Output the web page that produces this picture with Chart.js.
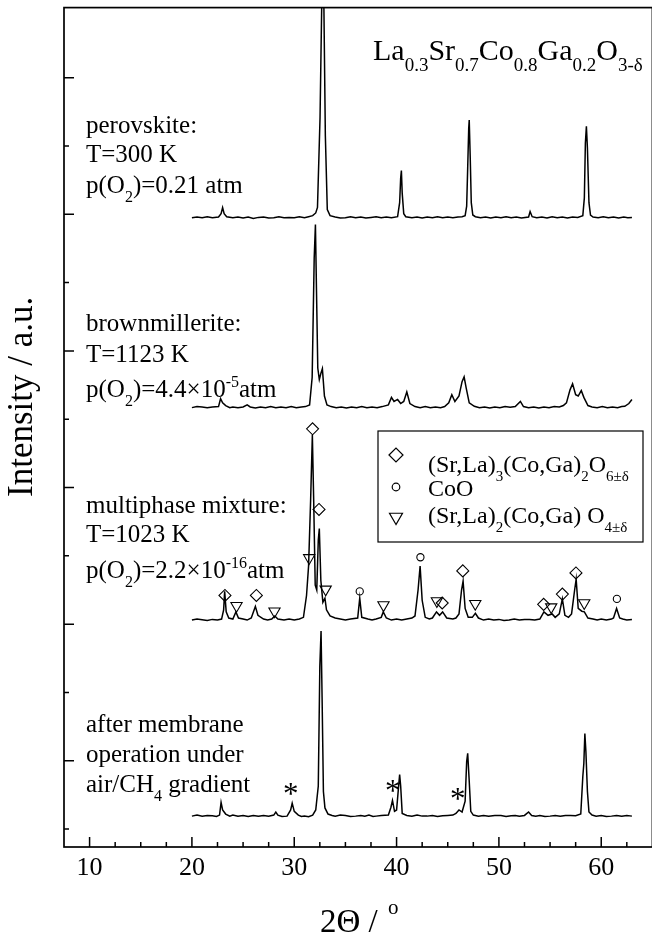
<!DOCTYPE html>
<html>
<head>
<meta charset="utf-8">
<script src="https://cdn.jsdelivr.net/npm/chart.js@4.4.1/dist/chart.umd.min.js"></script>
<style>
  html, body { margin: 0; padding: 0; background: #fff; overflow: hidden; }
  #wrap { width: 660px; height: 939px; }
</style>
</head>
<body>
<div id="wrap"><canvas id="xrd"></canvas></div>
<script>
// --- data (2theta in degrees, intensity in a.u.; 100 a.u. per y tick) ---
const xMajorTicks = [10, 20, 30, 40, 50, 60];
const xMinorTicks = [12.5, 15, 17.5, 22.5, 25, 27.5, 32.5, 35, 37.5, 42.5, 45, 47.5, 52.5, 55, 57.5, 62.5];
const yMajorTicks = [100, 300, 500, 700, 900, 1100];
const yMinorTicks = [0, 200, 400, 600, 800, 1000];

// vertical offsets used to stack the patterns
const offsets = [895, 617, 306, 19];

const perovskite = [[20,0],[20.5,1],[21,0],[21.5,1.5],[22,0],[22.6,1],[22.85,6],[23.0,15],[23.15,6],[23.4,1.5],[24,0],[24.5,1],[25,-0.5],[25.5,1],[26,-1],[26.5,0.5],[27,1],[27.5,-0.5],[28,0],[28.5,1.5],[29,0],[29.5,0.5],[30,0],[30.5,1.5],[31,0],[31.4,1.5],[31.8,3],[32.1,7],[32.27,15],[32.52,146],[32.68,306],[32.79,408],[32.9,306],[33.04,120],[33.23,12],[33.5,3],[34,1],[34.5,-0.5],[35,0],[35.5,1.5],[36,0],[36.5,1],[37,-0.5],[37.5,0.5],[38,1.5],[38.5,0],[39,1],[39.5,0],[40.1,1.5],[40.3,22],[40.4,58],[40.47,69],[40.55,36],[40.7,6],[40.9,1.5],[41.5,0],[42,1],[42.5,-0.5],[43,1],[43.5,0],[44,1.5],[44.5,0],[45,1],[45.5,0],[46,1],[46.4,1.5],[46.7,3],[46.85,17],[46.95,73],[47.05,131],[47.1,143],[47.2,87],[47.3,22],[47.45,4],[47.7,1.5],[48.2,0],[48.7,1],[49.2,-0.5],[49.7,1],[50.2,0],[50.7,1.5],[51.2,0],[51.7,1],[52.2,-0.5],[52.9,1],[53.05,9],[53.25,1.5],[53.7,0],[54.2,1],[54.7,-0.5],[55.2,1.5],[55.7,0],[56.2,1],[56.7,-0.5],[57.2,1],[57.7,0.5],[58.2,3],[58.35,29],[58.45,109],[58.55,134],[58.65,102],[58.8,22],[58.95,4],[59.2,1],[59.7,0],[60.2,1.5],[60.7,0],[61.2,1],[61.7,-0.5],[62.2,1],[62.6,0],[63,0.5]];

const brownmillerite = [[20,0],[20.5,1.5],[21,1],[21.5,0],[22,1],[22.6,1.5],[22.8,13],[23.0,7],[23.3,3],[23.7,0],[24,1],[24.5,0],[25,1],[25.4,4],[25.7,1],[26.2,-0.5],[26.7,1],[27.2,0],[27.7,1.5],[28.2,0],[28.7,1],[29.2,0],[29.7,1.5],[30.2,0],[30.7,1],[31.1,1.5],[31.5,4],[31.75,44],[31.95,219],[32.07,268],[32.17,175],[32.3,58],[32.45,41],[32.6,50],[32.75,57],[32.95,17],[33.2,4],[33.6,1.5],[34.1,0],[34.6,1],[35.1,-0.5],[35.6,1],[36.1,0],[36.6,1.5],[37.1,0],[37.6,1],[38.1,0],[38.6,1.5],[39.2,4],[39.5,15],[39.75,9],[40.1,12],[40.4,6],[40.7,9],[41.0,23],[41.3,6],[41.8,1.5],[42.3,0],[42.8,1.5],[43.3,0],[43.8,1],[44.3,0],[44.7,1.5],[45.1,7],[45.4,19],[45.7,9],[46.1,17],[46.4,38],[46.6,45],[46.8,29],[47.1,7],[47.6,2],[48.1,0],[48.6,1],[49.1,-0.5],[49.6,1],[50.1,0],[50.6,1.5],[51.1,0.5],[51.6,1.5],[52.1,9],[52.4,1.5],[52.9,0],[53.4,1],[53.9,-0.5],[54.4,1],[54.9,0],[55.4,1.5],[55.9,1],[56.3,3],[56.6,7],[56.95,26],[57.2,35],[57.5,19],[57.75,17],[58.05,25],[58.3,15],[58.7,3],[59.1,1],[59.6,0],[60.1,1.5],[60.6,0],[61.1,1],[61.6,0],[62.0,1.5],[62.3,2],[62.7,6],[63,12]];

const multiphase = [[20,0],[20.5,1.5],[21,0.5],[21.5,-0.5],[22,1],[22.5,0],[22.9,1.5],[23.1,15],[23.2,42],[23.35,12],[23.6,3],[24.0,1.5],[24.3,12],[24.55,3],[25,1.5],[25.4,0],[25.8,3],[26.2,20],[26.45,7],[27,1.5],[27.4,0],[27.8,1.5],[28.1,6],[28.4,1.5],[29,0],[29.5,1.5],[30,0],[30.5,1.5],[30.9,4],[31.2,36],[31.4,79],[31.6,175],[31.77,271],[31.9,175],[32.05,51],[32.2,44],[32.35,117],[32.45,134],[32.6,58],[32.8,26],[33.0,32],[33.15,15],[33.5,6],[34,3],[34.5,1.5],[35,0],[35.5,1.5],[36.2,3],[36.4,32],[36.6,4],[37.2,1.5],[37.6,0],[38,1.5],[38.5,4],[38.7,12],[39,3],[39.5,0],[40,1.5],[40.5,0],[41,1.5],[41.5,3],[41.8,6],[42.1,44],[42.3,79],[42.5,29],[42.8,4],[43.2,1.5],[43.5,3],[43.9,12],[44.2,7],[44.5,12],[44.9,3],[45.5,1.5],[45.8,3],[46.1,9],[46.35,44],[46.5,57],[46.7,17],[47.0,4],[47.4,4],[47.7,10],[48.0,3],[48.5,0],[49,1.5],[49.5,0],[50,1],[50.5,-0.5],[51,0],[51.5,1.5],[52,0],[52.5,1],[53,1],[53.5,0],[54,1.5],[54.4,12],[54.8,7],[55.2,9],[55.5,4],[55.9,9],[56.2,31],[56.45,7],[56.8,4],[57.1,9],[57.4,44],[57.55,60],[57.75,17],[58.1,13],[58.35,12],[58.7,3],[59.2,1.5],[59.6,0],[60,1.5],[60.5,0],[61,1.5],[61.2,3],[61.5,17],[61.8,3],[62.1,1.5],[62.5,0],[63,1]];

const membrane = [[20,0],[20.5,1.5],[21,0],[21.5,1],[22,0.5],[22.4,-0.5],[22.7,1.5],[22.85,20],[23.0,9],[23.3,3],[23.7,0],[24,1.5],[24.5,0],[25,1],[25.5,-0.5],[26,1],[26.5,0],[27,1],[27.5,0],[28,1.5],[28.2,6],[28.4,1.5],[28.8,-0.5],[29.3,0],[29.65,9],[29.8,19],[30.0,7],[30.4,1.5],[30.7,-0.5],[31,0],[31.4,-1],[31.8,1.5],[32.1,9],[32.35,44],[32.5,219],[32.62,271],[32.72,175],[32.85,36],[33.0,12],[33.3,3],[33.7,1],[34,0],[34.5,1.5],[35,1],[35.5,-0.5],[36,0],[36.5,1],[36.9,0],[37.3,1.5],[37.7,-0.5],[38,0],[38.5,1],[39.2,1.5],[39.45,13],[39.6,23],[39.8,7],[40.0,9],[40.2,44],[40.3,61],[40.4,44],[40.55,4],[41,1],[41.5,0],[42,1.5],[42.5,0],[43,0],[43.5,1],[44,-0.5],[44.5,0.5],[45,1],[45.5,1.5],[45.8,4],[46.1,9],[46.4,6],[46.7,22],[46.85,80],[46.95,92],[47.1,51],[47.25,7],[47.5,1.5],[48,0],[48.5,1],[49,0],[49.6,1],[50.2,1],[50.7,-0.5],[51.2,0.5],[51.6,1],[52,0],[52.5,1],[52.9,6],[53.2,1],[53.6,0],[54,1],[54.5,-0.5],[55,0],[55.5,1],[56,0],[56.5,1],[57,1],[57.5,0.5],[58.0,3],[58.2,58],[58.3,77],[58.4,121],[58.5,95],[58.65,36],[58.8,6],[59.1,1.5],[59.5,0],[60,1],[60.5,-0.5],[61,0],[61.5,1],[62,0],[62.5,1],[63,0]];

// phase markers over the multiphase pattern (absolute a.u.)
const diamondMarks = [[23.23,342],[26.3,342],[31.79,586],[32.42,468],[44.46,331],[46.47,378],[54.37,329],[56.2,344],[57.53,375]];
const circleMarks = [[36.4,348],[42.33,398],[61.53,337]];
const triangleMarks = [[24.36,327],[28.07,319],[31.46,397],[33.07,351],[38.72,328],[43.94,334],[47.69,330],[55.11,325],[58.34,331]];

// asterisks over the pattern after membrane operation
const starX = [29.67, 39.62, 45.98];
const starY = [58, 63, 52];

const FONT = "'Liberation Serif', 'Times New Roman', serif";

// text blocks on the left (pixel layout)
const notes = [
    { y: 133, parts: [['perovskite:']] },
    { y: 162, parts: [['T=300 K']] },
    { y: 193, parts: [['p(O'], ['2', 'sub'], [')=0.21 atm']] },
    { y: 331, parts: [['brownmillerite:']] },
    { y: 362, parts: [['T=1123 K']] },
    { y: 397, parts: [['p(O'], ['2', 'sub'], [')=4.4\u00d710'], ['-5', 'sup'], ['atm']] },
    { y: 513, parts: [['multiphase mixture:']] },
    { y: 542, parts: [['T=1023 K']] },
    { y: 578, parts: [['p(O'], ['2', 'sub'], [')=2.2\u00d710'], ['-16', 'sup'], ['atm']] },
    { y: 732, parts: [['after membrane']] },
    { y: 762, parts: [['operation under']] },
    { y: 792, parts: [['air/CH'], ['4', 'sub'], [' gradient']] }
];

// draw text with sub/superscripts, returns end x
function drawRich(ctx, x, y, parts, size) {
    let cx = x;
    parts.forEach(([t, k]) => {
        const s = k ? Math.round(size * 0.63) : size;
        ctx.font = s + "px " + FONT;
        let dy = 0;
        if (k === 'sub') dy = size * 0.37;
        if (k === 'sup') dy = -size * 0.4;
        ctx.fillText(t, cx, y + dy);
        cx += ctx.measureText(t).width;
    });
    return cx;
}

const overlay = {
    id: 'overlay',
    afterDatasetsDraw(chart) {
        const ctx = chart.ctx;
        const a = chart.chartArea;
        const xs = chart.scales.x, ys = chart.scales.y;
        ctx.save();
        ctx.strokeStyle = '#000';
        ctx.fillStyle = '#000';

        // frame
        ctx.lineWidth = 1.7;
        ctx.strokeRect(a.left, a.top, a.right - a.left, a.bottom - a.top);

        // inward ticks
        ctx.lineWidth = 1.5;
        ctx.beginPath();
        xMajorTicks.forEach(v => { const p = xs.getPixelForValue(v); ctx.moveTo(p, a.bottom); ctx.lineTo(p, a.bottom - 10); });
        xMinorTicks.forEach(v => { const p = xs.getPixelForValue(v); ctx.moveTo(p, a.bottom); ctx.lineTo(p, a.bottom - 5); });
        yMajorTicks.forEach(v => { const p = ys.getPixelForValue(v); ctx.moveTo(a.left, p); ctx.lineTo(a.left + 10, p); });
        yMinorTicks.forEach(v => { const p = ys.getPixelForValue(v); ctx.moveTo(a.left, p); ctx.lineTo(a.left + 5, p); });
        ctx.stroke();

        // asterisks
        ctx.font = "31px " + FONT;
        ctx.textAlign = 'center';
        ctx.textBaseline = 'alphabetic';
        const m = ctx.measureText('*');
        const shift = (m.actualBoundingBoxAscent - m.actualBoundingBoxDescent) / 2;
        starX.forEach((v, i) => {
            ctx.fillText('*', xs.getPixelForValue(v), ys.getPixelForValue(starY[i]) + shift);
        });

        // left annotations
        ctx.textAlign = 'left';
        notes.forEach(n => drawRich(ctx, 86, n.y, n.parts, 25));

        // compound title
        drawRich(ctx, 373, 60, [['La'], ['0.3', 'sub'], ['Sr'], ['0.7', 'sub'], ['Co'], ['0.8', 'sub'], ['Ga'], ['0.2', 'sub'], ['O'], ['3-\u03b4', 'sub']], 30);

        // legend box
        ctx.lineWidth = 1.2;
        ctx.fillStyle = '#fff';
        ctx.fillRect(378, 431, 265, 111);
        ctx.strokeRect(378, 431, 265, 111);
        ctx.fillStyle = '#fff';
        const h = Chart.helpers;
        h.drawPoint(ctx, { pointStyle: 'rectRot', radius: 7, borderWidth: 1.2, rotation: 0 }, 396, 455);
        h.drawPoint(ctx, { pointStyle: 'circle', radius: 3.8, borderWidth: 1.2, rotation: 0 }, 396, 487);
        h.drawPoint(ctx, { pointStyle: 'triangle', radius: 7.5, borderWidth: 1.2, rotation: 180 }, 396, 517);
        ctx.fillStyle = '#000';
        drawRich(ctx, 428, 472, [['(Sr,La)'], ['3', 'sub'], ['(Co,Ga)'], ['2', 'sub'], ['O'], ['6\u00b1\u03b4', 'sub']], 24);
        drawRich(ctx, 428, 496, [['CoO']], 24);
        drawRich(ctx, 428, 523, [['(Sr,La)'], ['2', 'sub'], ['(Co,Ga) O'], ['4\u00b1\u03b4', 'sub']], 24);

        // axis titles
        ctx.save();
        ctx.translate(32, 497);
        ctx.rotate(-Math.PI / 2);
        ctx.font = "35px " + FONT;
        ctx.fillText('Intensity / a.u.', 0, 0);
        ctx.restore();
        const ex = drawRich(ctx, 320, 932, [['2\u0398 / ']], 33);
        ctx.font = "21px " + FONT;
        ctx.fillText('o', ex + 2, 914);

        ctx.restore();
    }
};

const lineSet = (pts, off) => ({
    type: 'line',
    data: pts.map(p => ({ x: p[0], y: p[1] + off })),
    borderColor: '#000',
    borderWidth: 1.5,
    pointRadius: 0,
    tension: 0,
    fill: false
});

const markSet = (pts, style, r, rot) => ({
    type: 'scatter',
    data: pts.map(p => ({ x: p[0], y: p[1] })),
    pointStyle: style,
    pointRadius: r,
    rotation: rot,
    borderColor: '#000',
    borderWidth: 1.1,
    backgroundColor: 'rgba(0,0,0,0)',
    showLine: false
});

new Chart(document.getElementById('xrd'), {
    type: 'line',
    data: {
        datasets: [
            lineSet(perovskite, offsets[0]),
            lineSet(brownmillerite, offsets[1]),
            lineSet(multiphase, offsets[2]),
            lineSet(membrane, offsets[3]),
            markSet(diamondMarks, 'rectRot', 6, 0),
            markSet(circleMarks, 'circle', 3.6, 0),
            markSet(triangleMarks, 'triangle', 6.5, 180)
        ]
    },
    options: {
        responsive: true,
        maintainAspectRatio: false,
        devicePixelRatio: 1,
        animation: false,
        layout: { padding: { left: 0, top: 4, right: 2, bottom: 0 } },
        plugins: { legend: { display: false }, tooltip: { enabled: false } },
        scales: {
            x: {
                type: 'linear',
                min: 7.5,
                max: 65,
                afterBuildTicks: s => { s.ticks = xMajorTicks.map(v => ({ value: v })); },
                afterFit: s => { s.height = 92; },
                grid: { display: false, drawTicks: false },
                border: { display: false },
                ticks: { color: '#000', font: { family: FONT, size: 26 }, padding: 6, maxRotation: 0, autoSkip: false }
            },
            y: {
                type: 'linear',
                min: -26.2,
                max: 1202.6,
                afterFit: s => { s.width = 64; },
                grid: { display: false, drawTicks: false },
                border: { display: false },
                ticks: { display: false }
            }
        }
    },
    plugins: [overlay]
});
</script>
</body>
</html>
